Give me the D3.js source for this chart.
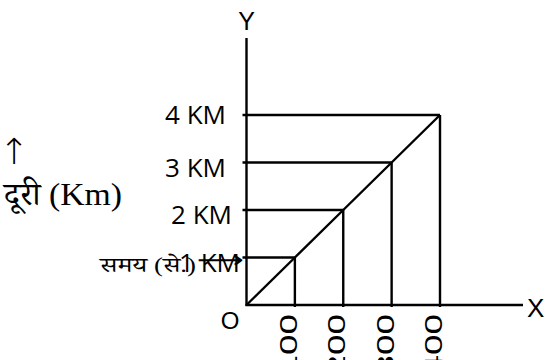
<!DOCTYPE html>
<html><head><meta charset="utf-8">
<script src="https://cdn.jsdelivr.net/npm/d3@7"></script>
<style>html,body{margin:0;padding:0;background:#fff;}svg{display:block;}</style>
</head><body>
<svg id="c" width="545" height="360"></svg>
<script>
const timeValues = [100, 200, 300, 400];
const distanceValues = [1, 2, 3, 4];
const xTickLabels = ["100", "200", "300", "400"];
const yTickLabels = ["1 KM", "2 KM", "3 KM", "4 KM"];
const axisNames = {x: "X", y: "Y", origin: "O"};
const yTitle = "दूरी (Km)";
const xTitle = "समय (से.)";

const svg = d3.select("#c");
const x = d3.scaleLinear().domain([0, 400]).range([246.5, 440]);
const y = d3.scaleLinear().domain([0, 4]).range([305, 115]);
const pts = timeValues.map((t, i) => ({t, d: distanceValues[i], xl: xTickLabels[i], yl: yTickLabels[i]}));
const sw = 2.4;
// layout: label right edges drift in the reference
const labelRight = d => 226 + (d.d === 1 ? 14 : d.d === 2 ? 6 : 0);
const labelDy = d => (d.d === 4 ? 9 : 14);

// axes
svg.append("line").attr("x1", x(0)).attr("x2", x(0)).attr("y1", 38).attr("y2", y(0) + 1)
  .attr("stroke", "#000").attr("stroke-width", sw);
svg.append("line").attr("x1", x(0) - 1).attr("x2", 523).attr("y1", y(0)).attr("y2", y(0))
  .attr("stroke", "#000").attr("stroke-width", sw);

// horizontal guides
svg.selectAll("line.h").data(pts).join("line").attr("class", "h")
  .attr("x1", x(0) - 4).attr("x2", d => x(d.t)).attr("y1", d => y(d.d)).attr("y2", d => y(d.d))
  .attr("stroke", "#000").attr("stroke-width", sw);
// vertical guides
svg.selectAll("line.v").data(pts).join("line").attr("class", "v")
  .attr("x1", d => x(d.t)).attr("x2", d => x(d.t)).attr("y1", d => y(d.d)).attr("y2", y(0) + 2)
  .attr("stroke", "#000").attr("stroke-width", sw);
// diagonal
const line = d3.line().x(d => x(d.t)).y(d => y(d.d));
svg.append("path").datum([{t: 0, d: 0}].concat(pts)).attr("d", line)
  .attr("fill", "none").attr("stroke", "#000").attr("stroke-width", sw);

// y tick labels
svg.selectAll("text.yl").data(pts).join("text").attr("class", "yl")
  .attr("x", labelRight).attr("y", d => y(d.d) + labelDy(d)).attr("text-anchor", "end")
  .attr("font-family", "Open Sans").attr("font-size", 26).text(d => d.yl);

// x tick labels (rotated)
svg.selectAll("text.xl").data(pts).join("text").attr("class", "xl")
  .attr("transform", d => `translate(${x(d.t) + 2},314) rotate(-90) scale(1.6,1)`)
  .attr("text-anchor", "end")
  .attr("font-family", "Liberation Sans").attr("font-size", 23).text(d => d.xl);

// axis names
svg.append("text").attr("x", x(0)).attr("y", 30).attr("text-anchor", "middle")
  .attr("font-family", "Liberation Sans").attr("font-size", 25).text(axisNames.y);
svg.append("text").attr("x", 527).attr("y", 317)
  .attr("font-family", "Liberation Sans").attr("font-size", 26).text(axisNames.x);
svg.append("text").attr("x", 230).attr("y", 329).attr("text-anchor", "middle")
  .attr("font-family", "Liberation Sans").attr("font-size", 24).text(axisNames.origin);

// titles
svg.append("text").attr("x", 14).attr("y", 164).attr("text-anchor", "middle")
  .attr("font-family", "DejaVu Sans").attr("font-size", 36).attr("font-weight", 300).text("↑");
svg.append("text").attr("x", 4).attr("y", 205)
  .attr("font-family", "Liberation Serif, 'Noto Serif Devanagari', 'Noto Sans Devanagari', serif")
  .attr("font-size", 32).attr("textLength", 118).attr("lengthAdjust", "spacingAndGlyphs").text(yTitle);
svg.append("text").attr("x", 100).attr("y", 272)
  .attr("font-family", "Liberation Serif, 'Noto Serif Devanagari', 'Noto Sans Devanagari', serif")
  .attr("font-size", 20).attr("textLength", 96).attr("lengthAdjust", "spacingAndGlyphs").text(xTitle);
svg.append("text").attr("x", 197).attr("y", 268)
  .attr("font-family", "DejaVu Sans").attr("font-size", 24)
  .attr("textLength", 47).attr("lengthAdjust", "spacingAndGlyphs").text("⟶");
</script>
</body></html>
